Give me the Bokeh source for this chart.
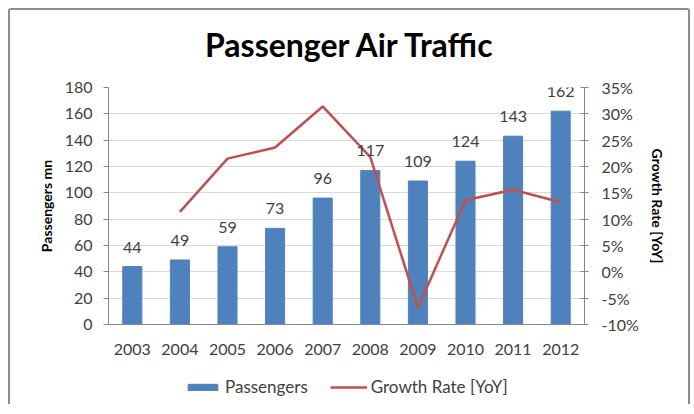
from bokeh.plotting import figure
from bokeh.layouts import column
from bokeh.models import (ColumnDataSource, LinearAxis, Range1d, FixedTicker,
                          NumeralTickFormatter, LabelSet, Legend, LegendItem, Label)
from bokeh.core.properties import value
from bokeh.embed import file_html
from bokeh.resources import INLINE

title_text = "Passenger Air Traffic"
years = ["2003", "2004", "2005", "2006", "2007", "2008", "2009", "2010", "2011", "2012"]
passengers = [44, 49, 59, 73, 96, 117, 109, 124, 143, 162]
growth_years = ["2004", "2005", "2006", "2007", "2008", "2009", "2010", "2011", "2012"]
growth_pct = [11.4, 21.5, 23.6, 31.4, 21.8, -6.8, 13.6, 15.6, 13.2]
left_ticks = [0, 20, 40, 60, 80, 100, 120, 140, 160, 180]
right_ticks_pct = [-10, -5, 0, 5, 10, 15, 20, 25, 30, 35]

FONT = "Lato"
TXT = "#404040"
AXIS = "#868686"
BLUE = "#4F81BD"
RED = "#C0504D"
FW, FH = 476, 237
MB_L, MB_R = 98, 104


def strip_fig(h):
    f = figure(frame_width=FW, frame_height=h,
               x_range=Range1d(0, FW), y_range=Range1d(0, h),
               x_axis_location=None, y_axis_location=None,
               min_border_left=MB_L, min_border_right=MB_R,
               min_border_top=0, min_border_bottom=0,
               output_backend="svg", toolbar_location=None)
    f.outline_line_color = None
    f.xgrid.visible = False
    f.ygrid.visible = False
    return f


# ---- title strip ----
T = strip_fig(66)
T.add_layout(Label(x=242, y=32, x_units="screen", y_units="screen",
                   text=title_text, text_font=FONT,
                   text_font_size="32px", text_font_style="bold",
                   text_color="#000000", text_align="center",
                   text_baseline="middle"))

# ---- main chart ----
bar_src = ColumnDataSource(dict(x=years, y=passengers, lbl=[str(v) for v in passengers]))
line_src = ColumnDataSource(dict(x=growth_years, y=[g / 100 for g in growth_pct]))

p = figure(x_range=years, y_range=Range1d(0, 180),
           frame_width=FW, frame_height=FH,
           output_backend="svg", toolbar_location=None,
           min_border_left=MB_L, min_border_right=MB_R,
           min_border_top=11, min_border_bottom=40)
p.extra_y_ranges = {"growth": Range1d(-0.10, 0.35)}

p.vbar(x="x", top="y", width=0.4, source=bar_src, fill_color=BLUE, line_color=BLUE)
p.line(x="x", y="y", source=line_src, y_range_name="growth",
       line_color=RED, line_width=2.5)

p.add_layout(LabelSet(x="x", y="y", text="lbl", source=bar_src, text_align="center",
                      text_baseline="bottom", y_offset=14, text_font=value(FONT),
                      text_font_size="16px", text_color=TXT))

ya = p.yaxis[0]
ya.ticker = FixedTicker(ticks=left_ticks)
ya.axis_label = "Passengers mn"

ra = LinearAxis(y_range_name="growth", axis_label="Growth Rate [YoY]",
                ticker=FixedTicker(ticks=[t / 100 for t in right_ticks_pct]),
                formatter=NumeralTickFormatter(format="0%"))
p.add_layout(ra, "right")

for ax in [ya, ra]:
    ax.axis_line_color = AXIS
    ax.major_tick_line_color = AXIS
    ax.minor_tick_line_color = None
    ax.major_label_text_font = FONT
    ax.major_label_text_font_size = "16px"
    ax.major_label_text_color = TXT
    ax.axis_label_text_font = FONT
    ax.axis_label_text_font_size = "14px"
    ax.axis_label_text_font_style = "bold"
    ax.axis_label_text_color = "#000000"
ya.major_tick_out = 5
ya.major_tick_in = 0
ra.major_tick_out = 4
ra.major_tick_in = 4
ya.major_label_standoff = 11
ra.major_label_standoff = 13
ya.axis_label_standoff = 7
ra.axis_label_standoff = 7

xa = p.xaxis[0]
xa.axis_line_color = AXIS
xa.major_tick_line_color = None
xa.major_label_text_font = FONT
xa.major_label_text_font_size = "16px"
xa.major_label_text_color = TXT
xa.major_label_standoff = 13

p.xgrid.grid_line_color = None
p.ygrid.grid_line_color = "#D9D9D9"
p.ygrid.ticker = FixedTicker(ticks=left_ticks)
p.outline_line_color = None
p.x_range.range_padding = 0.0

# ---- legend strip (proxy renderers sit outside the visible range) ----
L = strip_fig(40)
proxy_bar = ColumnDataSource(dict(x=[-50], top=[-10], bottom=[-20]))
proxy_line = ColumnDataSource(dict(x=[-60, -50], y=[-10, -10]))
lb = L.vbar(x="x", top="top", bottom="bottom", width=1, source=proxy_bar,
            fill_color=BLUE, line_color=BLUE)
ll = L.line(x="x", y="y", source=proxy_line, line_color=RED, line_width=2.5)
L.add_layout(Legend(items=[LegendItem(label="Passengers", renderers=[lb]),
                           LegendItem(label="Growth Rate [YoY]", renderers=[ll])],
                    orientation="horizontal", location=(76, 7),
                    label_text_font=FONT, label_text_font_size="17px",
                    label_text_color=TXT, glyph_width=37, glyph_height=8,
                    spacing=22, border_line_color=None, background_fill_alpha=0,
                    padding=4, margin=0, label_standoff=4))

layout = column(T, p, L, spacing=0)
layout.styles = {"border": "2px solid #8c8c8c", "border-bottom": "none",
                 "border-radius": "3px 3px 0 0", "margin": "8px 0 0 8px"}

open("out.html", "w").write(file_html(layout, INLINE))
